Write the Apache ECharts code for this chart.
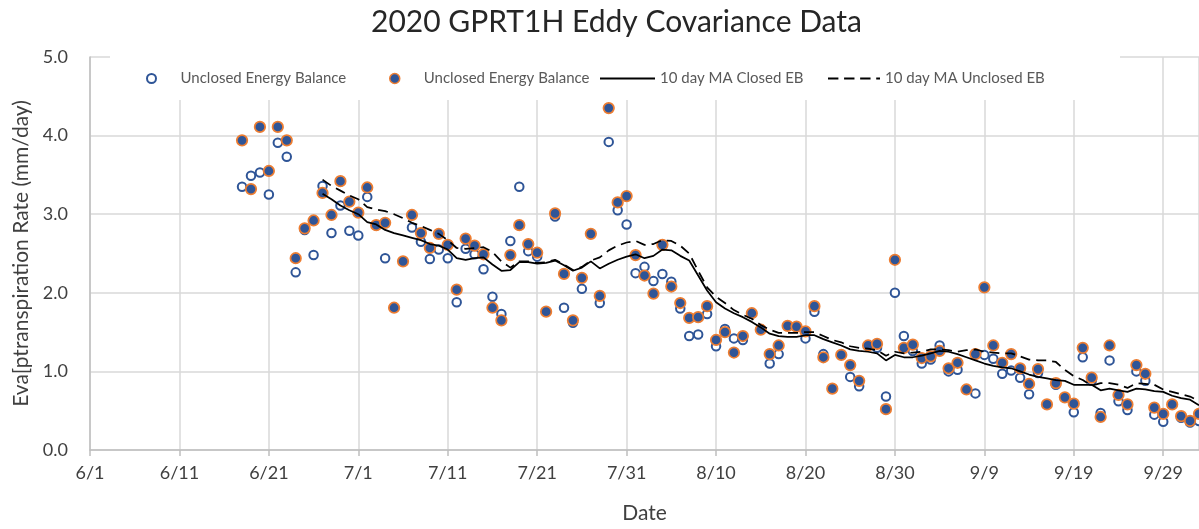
<!DOCTYPE html>
<html><head><meta charset="utf-8">
<script src="https://cdn.jsdelivr.net/npm/echarts@6/dist/echarts.min.js"></script>
<style>html,body{margin:0;padding:0;background:#fff}#c{width:1199px;height:529px}</style>
</head><body><div id="c"></div>
<script>
// x values are days counted from 6/1 (day 0)
const tickLabels = ['6/1','6/11','6/21','7/1','7/11','7/21','7/31','8/10','8/20','8/30','9/9','9/19','9/29'];
const yTicks = ['0.0','1.0','2.0','3.0','4.0','5.0'];
const pointStartDay = 17;   // 6/18
const maStartDay = 26;      // 6/27

const closedPoints = [
 3.35,3.49,3.53,3.25,3.91,3.73,2.26,2.80,2.48,3.36,
 2.76,3.11,2.79,2.73,3.22,2.86,2.44,1.81,2.40,2.83,
 2.65,2.43,2.55,2.44,1.88,2.56,2.49,2.30,1.95,1.73,
 2.66,3.35,2.53,2.46,1.76,2.97,1.81,1.62,2.05,2.75,
 1.87,3.92,3.05,2.87,2.25,2.33,2.15,2.24,2.14,1.80,
 1.45,1.47,1.73,1.32,1.54,1.42,1.40,1.74,1.54,1.10,
 1.22,1.58,1.57,1.42,1.76,1.22,0.78,1.21,0.93,0.81,
 1.33,1.30,0.68,2.00,1.45,1.26,1.10,1.15,1.33,1.00,
 1.02,0.77,0.72,1.21,1.16,0.97,1.01,0.92,0.71,0.98,
 0.58,0.83,0.67,0.48,1.18,0.88,0.47,1.14,0.62,0.51,
 1.00,0.88,0.45,0.36,0.58,0.41,0.35,0.37
];
const unclosedPoints = [
 3.94,3.32,4.11,3.55,4.11,3.94,2.44,2.82,2.92,3.27,
 2.99,3.42,3.16,3.02,3.34,2.86,2.89,1.81,2.40,2.99,
 2.76,2.57,2.75,2.61,2.04,2.69,2.60,2.49,1.81,1.65,
 2.48,2.86,2.62,2.51,1.76,3.01,2.24,1.65,2.19,2.75,
 1.96,4.35,3.15,3.23,2.48,2.22,1.99,2.61,2.08,1.87,
 1.68,1.69,1.83,1.40,1.50,1.24,1.45,1.74,1.53,1.22,
 1.33,1.58,1.57,1.51,1.83,1.18,0.78,1.21,1.08,0.88,
 1.33,1.35,0.52,2.42,1.30,1.34,1.17,1.19,1.26,1.04,
 1.11,0.77,1.22,2.07,1.33,1.11,1.22,1.04,0.84,1.03,
 0.58,0.85,0.67,0.59,1.30,0.92,0.42,1.33,0.70,0.58,
 1.08,0.97,0.54,0.46,0.58,0.43,0.37,0.46
];
const maClosed = [
 3.26,3.19,3.11,3.05,3.00,2.90,2.87,2.80,2.76,2.73,
 2.70,2.67,2.62,2.60,2.55,2.44,2.42,2.44,2.45,2.36,
 2.28,2.29,2.39,2.39,2.37,2.38,2.41,2.35,2.28,2.32,
 2.40,2.31,2.37,2.42,2.46,2.49,2.44,2.47,2.55,2.54,
 2.47,2.41,2.22,2.03,1.88,1.80,1.74,1.69,1.63,1.56,
 1.48,1.45,1.44,1.44,1.46,1.46,1.41,1.37,1.33,1.28,
 1.26,1.25,1.23,1.14,1.21,1.18,1.18,1.20,1.23,1.26,
 1.25,1.22,1.18,1.14,1.10,1.07,1.05,1.04,1.00,0.96,
 0.93,0.91,0.89,0.88,0.83,0.83,0.83,0.76,0.78,0.76,
 0.74,0.78,0.77,0.75,0.74,0.69,0.66,0.64,0.57
];
const maUnclosed = [
 3.44,3.36,3.30,3.24,3.19,3.09,3.06,3.04,3.00,2.95,
 2.89,2.85,2.80,2.75,2.67,2.57,2.56,2.57,2.58,2.52,
 2.40,2.32,2.40,2.40,2.38,2.39,2.42,2.36,2.29,2.33,
 2.41,2.45,2.54,2.60,2.64,2.66,2.61,2.62,2.67,2.66,
 2.60,2.50,2.28,2.07,1.95,1.87,1.78,1.72,1.67,1.59,
 1.53,1.49,1.49,1.49,1.50,1.50,1.45,1.40,1.37,1.32,
 1.30,1.29,1.27,1.20,1.25,1.23,1.24,1.25,1.28,1.28,
 1.27,1.25,1.27,1.28,1.25,1.24,1.23,1.23,1.19,1.15,
 1.14,1.14,1.12,1.02,0.94,0.89,0.82,0.85,0.85,0.83,
 0.79,0.85,0.84,0.83,0.77,0.74,0.71,0.68,0.62
];

const BLUE = '#2F5597', ORANGE = '#ED7D31';
const FONT = 'Lato, "Open Sans", sans-serif';
const toPairs = (arr, start) => arr.map((v, i) => [start + i, v]);

const names = ['Unclosed Energy Balance', 'Unclosed Energy Balance ', '10 day MA Closed EB', '10 day MA Unclosed EB'];
const legendText = {color: '#595959', fontSize: 15, fontFamily: FONT};
const solidIcon = 'path://M0,0h55v2h-55z';
const dashedIcon = 'path://M0,0h11v2h-11z M17,0h11v2h-11z M34,0h11v2h-11z M51,0h4v2h-4z';

const chart = echarts.init(document.getElementById('c'), null, {renderer: 'canvas'});
chart.setOption({
  backgroundColor: '#fff',
  animation: false,
  title: {
    text: '2020 GPRT1H Eddy Covariance Data',
    left: 366, top: 2,
    textStyle: {fontFamily: FONT, fontSize: 30, fontWeight: 'normal', color: '#262626'}
  },
  graphic: [{
    type: 'rect', z: 3, silent: true,
    shape: {x: 110, y: 54, width: 1010, height: 46},
    style: {fill: '#fff'}
  }],
  legend: [
    {data: [names[0]], left: 146, top: 71, itemWidth: 48, itemHeight: 9, padding: 0,
     itemStyle: {color: '#fff', borderColor: BLUE, borderWidth: 2}, textStyle: legendText},
    {data: [names[1]], left: 389, top: 71, itemWidth: 48, itemHeight: 10, padding: 0,
     itemStyle: {color: BLUE, borderColor: ORANGE, borderWidth: 1.5}, textStyle: legendText},
    {data: [{name: names[2], icon: solidIcon}], left: 600, top: 71, itemWidth: 55, itemHeight: 2,
     padding: 0, symbolKeepAspect: false,
     itemStyle: {color: '#000', borderWidth: 0}, textStyle: legendText},
    {data: [{name: names[3], icon: dashedIcon}], left: 828, top: 71, itemWidth: 52, itemHeight: 2,
     padding: 0, symbolKeepAspect: false,
     itemStyle: {color: '#000', borderWidth: 0}, textStyle: legendText}
  ],
  grid: {left: 90, right: 0, top: 57, bottom: 77, containLabel: false},
  xAxis: {
    type: 'value', min: 0, max: 124, interval: 10,
    name: 'Date', nameLocation: 'middle', nameGap: 53,
    nameTextStyle: {fontFamily: FONT, fontSize: 21, color: '#404040'},
    axisLine: {show: true, lineStyle: {color: '#bfbfbf', width: 1.5}},
    axisTick: {show: true, length: 6, lineStyle: {color: '#bfbfbf', width: 1.5}},
    axisLabel: {
      fontFamily: FONT, fontSize: 18, color: '#404040', margin: 14,
      showMaxLabel: false,
      formatter: v => (v % 10 === 0 ? (tickLabels[v / 10] || '') : '')
    },
    splitLine: {show: true, lineStyle: {color: '#d9d9d9', width: 1.5}}
  },
  yAxis: {
    type: 'value', min: 0, max: 5, interval: 1,
    name: 'Eva[ptranspiration Rate (mm/day)', nameLocation: 'middle', nameGap: 54,
    nameTextStyle: {fontFamily: FONT, fontSize: 21, color: '#404040'},
    axisLine: {show: true, lineStyle: {color: '#bfbfbf', width: 1.5}},
    axisTick: {show: false},
    axisLabel: {fontFamily: FONT, fontSize: 18, color: '#404040', margin: 22,
      formatter: v => yTicks[Math.round(v)]},
    splitLine: {show: true, lineStyle: {color: '#d9d9d9', width: 1.5}}
  },
  series: [
    {name: names[0], type: 'scatter', data: toPairs(closedPoints, pointStartDay),
     symbol: 'circle', symbolSize: 8.5, clip: false, z: 2,
     itemStyle: {color: '#fff', borderColor: BLUE, borderWidth: 2, opacity: 1}},
    {name: names[1], type: 'scatter', data: toPairs(unclosedPoints, pointStartDay),
     symbol: 'circle', symbolSize: 10.5, clip: false, z: 3,
     itemStyle: {color: BLUE, borderColor: ORANGE, borderWidth: 1.75, opacity: 1}},
    {name: names[2], type: 'line', data: toPairs(maClosed, maStartDay),
     symbol: 'none', z: 4, itemStyle: {color: '#000'},
     lineStyle: {color: '#000', width: 1.75, type: 'solid'}},
    {name: names[3], type: 'line', data: toPairs(maUnclosed, maStartDay),
     symbol: 'none', z: 4, itemStyle: {color: '#000'},
     lineStyle: {color: '#000', width: 1.75, type: [10, 6]}}
  ]
});
</script></body></html>
